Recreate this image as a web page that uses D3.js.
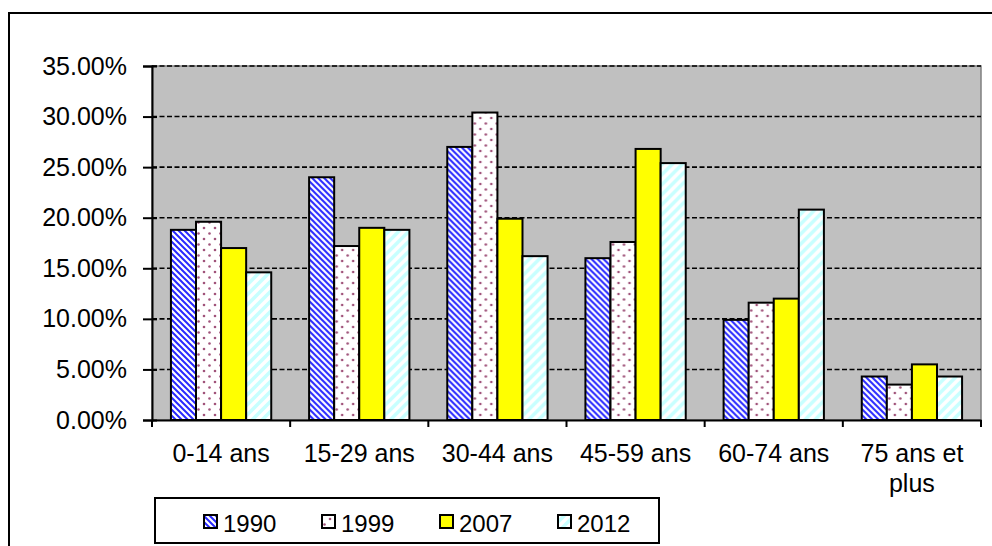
<!DOCTYPE html>
<html>
<head>
<meta charset="utf-8">
<script src="https://cdn.jsdelivr.net/npm/d3@7"></script>
<style>
  html, body { margin: 0; padding: 0; background: #fff; }
  svg { display: block; font-family: "Liberation Sans", Arial, sans-serif; }
</style>
</head>
<body>
<svg id="chart" width="992" height="546"></svg>
<script>
// Age groups and share of population per census year (%)
const categories = ["0-14 ans", "15-29 ans", "30-44 ans", "45-59 ans", "60-74 ans", "75 ans et plus"];
const years = ["1990", "1999", "2007", "2012"];
const values1990 = [18.8, 24.0, 27.0, 16.0, 9.9, 4.3];
const values1999 = [19.6, 17.2, 30.4, 17.6, 11.6, 3.5];
const values2007 = [17.0, 19.0, 19.9, 26.8, 12.0, 5.5];
const values2012 = [14.6, 18.8, 16.2, 25.4, 20.8, 4.3];
const yTicks = [0, 5, 10, 15, 20, 25, 30, 35];

const seriesValues = [values1990, values1999, values2007, values2012];

const svg = d3.select("#chart");
const plot = { left: 152, right: 981, top: 66, bottom: 420 };

// Outer chart frame
svg.append("rect")
  .attr("x", 9).attr("y", 13).attr("width", 1100).attr("height", 600)
  .attr("fill", "#fff").attr("stroke", "#000").attr("stroke-width", 2);

// Fill patterns for each series
const defs = svg.append("defs");

const p1990 = defs.append("pattern").attr("id", "pat1990")
  .attr("patternUnits", "userSpaceOnUse").attr("width", 6).attr("height", 6);
p1990.append("rect").attr("width", 6).attr("height", 6).attr("fill", "#fff");
p1990.append("path").attr("d", "M-1,-1 L7,7 M-4,2 L2,8 M4,-2 L8,2")
  .attr("stroke", "#2929ff").attr("stroke-width", 2);

const p1999 = defs.append("pattern").attr("id", "pat1999")
  .attr("patternUnits", "userSpaceOnUse").attr("width", 11).attr("height", 11);
p1999.append("rect").attr("width", 11).attr("height", 11).attr("fill", "#fff");
p1999.append("circle").attr("cx", 2.5).attr("cy", 2.5).attr("r", 1.3).attr("fill", "#a0537a");
p1999.append("circle").attr("cx", 8).attr("cy", 8).attr("r", 1.3).attr("fill", "#a0537a");

const p2012 = defs.append("pattern").attr("id", "pat2012")
  .attr("patternUnits", "userSpaceOnUse").attr("width", 10).attr("height", 10);
p2012.append("rect").attr("width", 10).attr("height", 10).attr("fill", "#fff");
p2012.append("path").attr("d", "M-1,11 L11,-1 M-6,6 L6,-6 M4,16 L16,4")
  .attr("stroke", "#c8ffff").attr("stroke-width", 3.5);

const fills = ["url(#pat1990)", "url(#pat1999)", "#ffff00", "url(#pat2012)"];

// Scales
const x0 = d3.scaleBand().domain(categories).range([plot.left, plot.right]).padding(0);
const x1 = d3.scaleBand().domain(years)
  .range([x0.bandwidth() * 0.137, x0.bandwidth() * 0.863]).padding(0);
const y = d3.scaleLinear().domain([0, 35]).range([plot.bottom, plot.top]);

// Plot area background
svg.append("rect")
  .attr("x", plot.left).attr("y", plot.top)
  .attr("width", plot.right - plot.left).attr("height", plot.bottom - plot.top)
  .attr("fill", "#c0c0c0").attr("stroke", "#808080").attr("stroke-width", 1.5);

// Dashed gridlines
svg.append("g").selectAll("line")
  .data(yTicks.filter(d => d > 0))
  .join("line")
  .attr("x1", plot.left).attr("x2", plot.right)
  .attr("y1", d => y(d)).attr("y2", d => y(d))
  .attr("stroke", "#000").attr("stroke-width", 1.6)
  .attr("stroke-dasharray", "5,2.5");

// Bars
const groups = svg.append("g").selectAll("g")
  .data(categories)
  .join("g")
  .attr("transform", d => `translate(${x0(d)},0)`);

groups.selectAll("rect")
  .data((c, i) => years.map((yr, s) => ({ yr, s, v: seriesValues[s][i] })))
  .join("rect")
  .attr("x", d => x1(d.yr))
  .attr("width", x1.bandwidth())
  .attr("y", d => y(d.v))
  .attr("height", d => y(0) - y(d.v))
  .attr("fill", d => fills[d.s])
  .attr("stroke", "#000").attr("stroke-width", 2);

// Y axis
const yAxis = svg.append("g")
  .attr("transform", `translate(${plot.left},0)`)
  .call(d3.axisLeft(y).tickValues(yTicks).tickFormat(d => d.toFixed(2) + "%").tickSize(9).tickPadding(16));
yAxis.select(".domain").attr("stroke", "#000").attr("stroke-width", 2);
yAxis.selectAll(".tick line").attr("stroke", "#000").attr("stroke-width", 2)
  .attr("x2", -9).attr("x1", 5);
yAxis.selectAll(".tick text").attr("font-size", 25).attr("fill", "#000")
  .attr("font-family", "Liberation Sans, Arial, sans-serif");

// X axis
const xAxis = svg.append("g")
  .attr("transform", `translate(0,${plot.bottom})`)
  .call(d3.axisBottom(x0).tickSize(0).tickFormat(""));
xAxis.select(".domain").attr("stroke", "#000").attr("stroke-width", 2);

// Category boundary ticks
const boundaries = categories.map(c => x0(c)).concat([plot.right]);
svg.append("g").selectAll("line")
  .data(boundaries)
  .join("line")
  .attr("x1", d => d).attr("x2", d => d)
  .attr("y1", plot.bottom).attr("y2", plot.bottom + 7)
  .attr("stroke", "#000").attr("stroke-width", 2);

// Category labels (long labels wrap on two lines)
const wrap = { "75 ans et plus": ["75 ans et", "plus"] };
svg.append("g").selectAll("text")
  .data(categories)
  .join("text")
  .attr("x", d => x0(d) + x0.bandwidth() / 2)
  .attr("y", 462)
  .attr("text-anchor", "middle")
  .attr("font-size", 25)
  .attr("fill", "#000")
  .each(function (d) {
    const lines = wrap[d] || [d];
    d3.select(this).selectAll("tspan")
      .data(lines)
      .join("tspan")
      .attr("x", x0(d) + x0.bandwidth() / 2)
      .attr("dy", (l, i) => i === 0 ? 0 : 30)
      .text(l => l);
  });

// Legend
const legend = svg.append("g");
legend.append("rect")
  .attr("x", 155).attr("y", 498).attr("width", 504).attr("height", 45)
  .attr("fill", "#fff").attr("stroke", "#000").attr("stroke-width", 2);

const legendX = d3.scalePoint().domain(years).range([204, 558]);
const items = legend.selectAll("g.item")
  .data(years)
  .join("g").attr("class", "item")
  .attr("transform", d => `translate(${legendX(d)},522)`);
items.append("rect")
  .attr("x", 0).attr("y", -7).attr("width", 13).attr("height", 13)
  .attr("fill", (d, i) => fills[i])
  .attr("stroke", "#000").attr("stroke-width", 2);
items.append("text")
  .attr("x", 19).attr("y", 9.5)
  .attr("font-size", 24).attr("fill", "#000")
  .text(d => d);
</script>
</body>
</html>
